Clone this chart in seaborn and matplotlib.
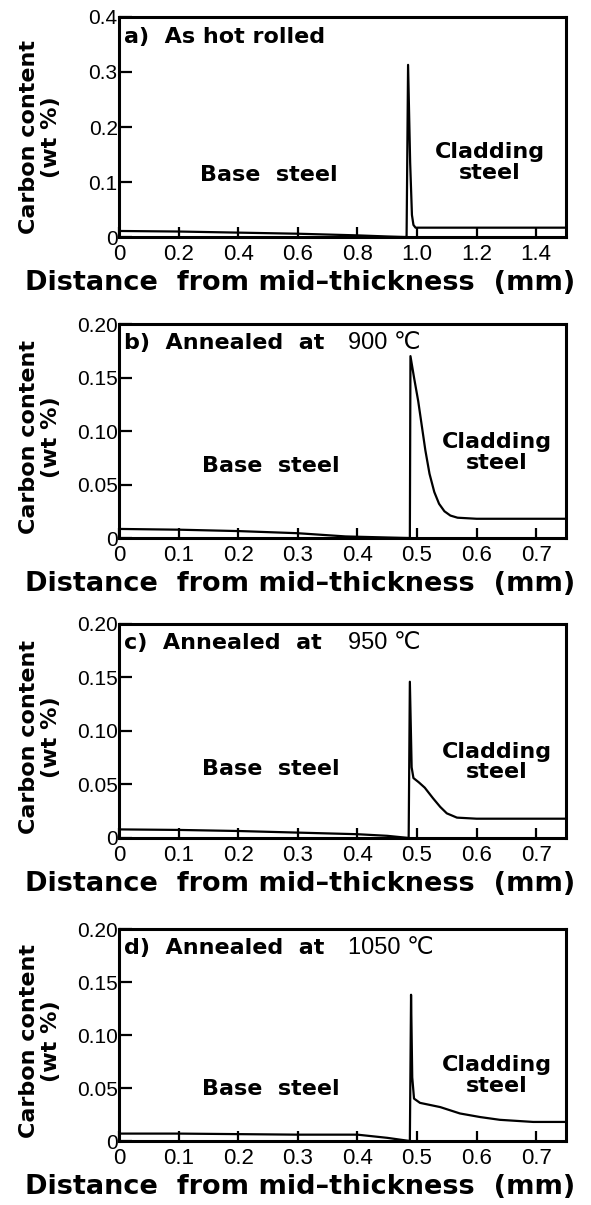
import matplotlib
matplotlib.use("Agg")
import matplotlib.pyplot as plt
import seaborn as sns

# ---- data (distance in mm, carbon in wt %) ----
a_dist = [0.0, 0.2, 0.4, 0.6, 0.8, 0.9, 0.962, 0.965, 0.970, 0.977, 0.983, 0.988, 0.995, 1.5]
a_carbon = [0.011, 0.010, 0.008, 0.006, 0.003, 0.001, 0.0, 0.0, 0.313, 0.135, 0.04, 0.022, 0.017, 0.017]

b_dist = [0.0, 0.1, 0.2, 0.3, 0.38, 0.45, 0.488, 0.489, 0.495, 0.502, 0.508, 0.514,
          0.521, 0.529, 0.537, 0.546, 0.556, 0.568, 0.6, 0.75]
b_carbon = [0.0085, 0.0078, 0.0065, 0.0045, 0.0015, 0.0005, 0.0, 0.170, 0.150, 0.128, 0.105, 0.082,
            0.060, 0.043, 0.032, 0.025, 0.021, 0.019, 0.018, 0.018]

c_dist = [0.0, 0.1, 0.2, 0.3, 0.4, 0.45, 0.486, 0.488, 0.491, 0.494, 0.503, 0.513,
          0.527, 0.539, 0.55, 0.567, 0.6, 0.75]
c_carbon = [0.008, 0.0075, 0.0065, 0.005, 0.0035, 0.002, 0.0, 0.146, 0.066, 0.056, 0.052, 0.047,
            0.037, 0.029, 0.023, 0.019, 0.018, 0.018]

d_dist = [0.0, 0.1, 0.2, 0.3, 0.4, 0.45, 0.488, 0.49, 0.492, 0.495, 0.505, 0.539,
          0.572, 0.606, 0.639, 0.695, 0.75]
d_carbon = [0.007, 0.007, 0.0065, 0.006, 0.006, 0.003, 0.0, 0.138, 0.06, 0.04, 0.036, 0.032,
            0.026, 0.0226, 0.020, 0.018, 0.018]

panel_tags = ["a)  As hot rolled", "b)  Annealed  at", "c)  Annealed  at", "d)  Annealed  at"]
panel_temps = [None, "900 \u2103", "950 \u2103", "1050 \u2103"]

a_xticks = [0, 0.2, 0.4, 0.6, 0.8, 1.0, 1.2, 1.4]
a_xticklabels = ["0", "0.2", "0.4", "0.6", "0.8", "1.0", "1.2", "1.4"]
a_yticks = [0, 0.1, 0.2, 0.3, 0.4]
a_yticklabels = ["0", "0.1", "0.2", "0.3", "0.4"]
bcd_xticks = [0, 0.1, 0.2, 0.3, 0.4, 0.5, 0.6, 0.7]
bcd_xticklabels = ["0", "0.1", "0.2", "0.3", "0.4", "0.5", "0.6", "0.7"]
bcd_yticks = [0, 0.05, 0.10, 0.15, 0.20]
bcd_yticklabels = ["0", "0.05", "0.10", "0.15", "0.20"]

sns.set_style("ticks")
plt.rcParams["font.family"] = ["DejaVu Sans"]
plt.rcParams["text.color"] = "black"
plt.rcParams["axes.labelcolor"] = "black"
plt.rcParams["xtick.color"] = "black"
plt.rcParams["ytick.color"] = "black"

tick_family = ["Liberation Sans", "DejaVu Sans"]

fig = plt.figure(figsize=(5.91, 12.05), dpi=100)

# [left, bottom, width, height] in figure fraction
boxes = [
    [0.2014, 0.8033, 0.7563, 0.1826],
    [0.2014, 0.5535, 0.7563, 0.1776],
    [0.2014, 0.3046, 0.7563, 0.1776],
    [0.2014, 0.0531, 0.7563, 0.1759],
]

panels = [
    (a_dist, a_carbon, 1.5, 0.4, a_xticks, a_xticklabels, a_yticks, a_yticklabels),
    (b_dist, b_carbon, 0.75, 0.2, bcd_xticks, bcd_xticklabels, bcd_yticks, bcd_yticklabels),
    (c_dist, c_carbon, 0.75, 0.2, bcd_xticks, bcd_xticklabels, bcd_yticks, bcd_yticklabels),
    (d_dist, d_carbon, 0.75, 0.2, bcd_xticks, bcd_xticklabels, bcd_yticks, bcd_yticklabels),
]

# text positions in axes fraction: (base x, base y, clad x, clad y, ylabel y)
text_pos = [
    (0.335, 0.28, 0.83, 0.34, 0.455),
    (0.34, 0.335, 0.845, 0.40, 0.47),
    (0.34, 0.32, 0.845, 0.355, 0.47),
    (0.34, 0.245, 0.845, 0.31, 0.47),
]

for i, (xs, ys, xmax, ymax, xt, xtl, yt, ytl) in enumerate(panels):
    ax = fig.add_axes(boxes[i])
    sns.lineplot(x=xs, y=ys, ax=ax, color="black", linewidth=1.6,
                 estimator=None, sort=False, legend=False)
    ax.set_xlim(0, xmax)
    ax.set_ylim(0, ymax)
    ax.set_xticks(xt)
    ax.set_xticklabels(xtl, family=tick_family, fontsize=16)
    ax.set_yticks(yt)
    ax.set_yticklabels(ytl, family=tick_family, fontsize=15)
    ax.tick_params(axis="x", direction="in", length=7, width=1.6, pad=5)
    ax.tick_params(axis="y", direction="in", length=9, width=1.6, pad=1)
    for s in ax.spines.values():
        s.set_linewidth(2.2)
        s.set_color("black")

    ax.set_ylabel("Carbon content\n(wt %)", fontsize=16, fontweight="bold",
                  linespacing=1.15)
    ax.yaxis.set_label_coords(-0.13, text_pos[i][4])
    ax.set_xlabel("")

    # panel heading
    ax.text(0.012, 0.91, panel_tags[i], transform=ax.transAxes, fontsize=16,
            fontweight="bold", ha="left", va="center")
    if panel_temps[i] is not None:
        ax.text(0.512, 0.91, panel_temps[i], transform=ax.transAxes, fontsize=17,
                family=tick_family, ha="left", va="center")

    ax.text(text_pos[i][0], text_pos[i][1], "Base  steel", transform=ax.transAxes,
            fontsize=16, fontweight="bold", ha="center", va="center")
    ax.text(text_pos[i][2], text_pos[i][3], "Cladding\nsteel", transform=ax.transAxes,
            fontsize=16, fontweight="bold", ha="center", va="center", linespacing=1.05)

    # x caption under each panel
    fig.text(0.508, boxes[i][1] - 46 / 1205, "Distance  from mid\u2013thickness  (mm)",
             fontsize=19.5, fontweight="bold", ha="center", va="center")

fig.savefig("out.png", dpi=100)
